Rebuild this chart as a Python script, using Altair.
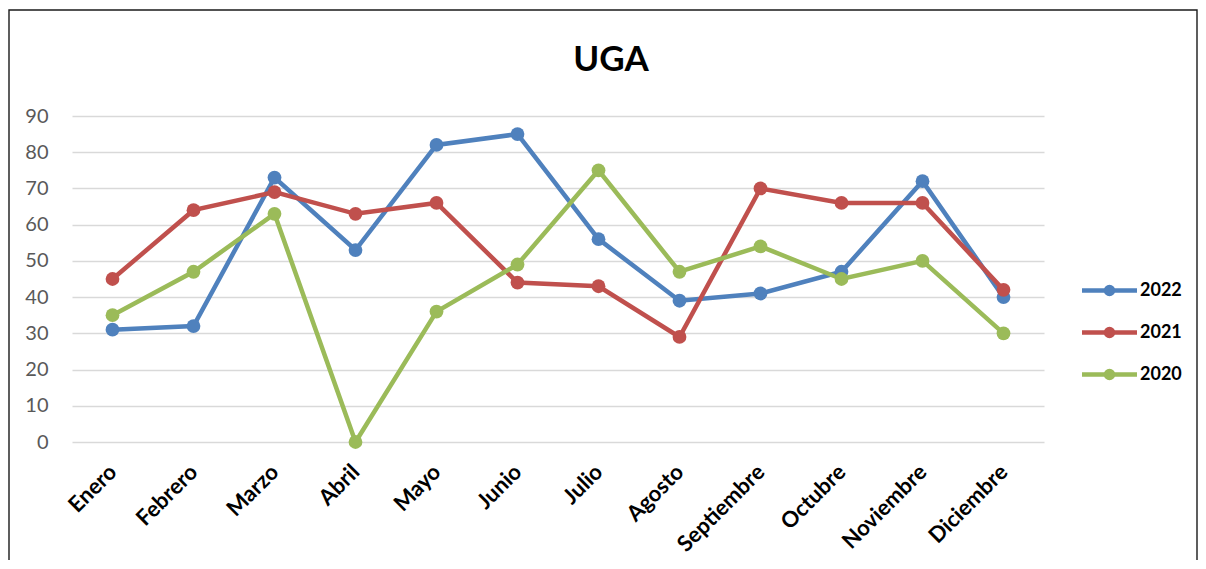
import altair as alt
import pandas as pd

months = ["Enero", "Febrero", "Marzo", "Abril", "Mayo", "Junio", "Julio",
          "Agosto", "Septiembre", "Octubre", "Noviembre", "Diciembre"]
years = ["2022", "2021", "2020"]
v2022 = [31, 32, 73, 53, 82, 85, 56, 39, 41, 47, 72, 40]
v2021 = [45, 64, 69, 63, 66, 44, 43, 29, 70, 66, 66, 42]
v2020 = [35, 47, 63, 0, 36, 49, 75, 47, 54, 45, 50, 30]
colors = ["#4F81BD", "#C0504D", "#9BBB59"]

rows = []
for year, vals in zip(years, [v2022, v2021, v2020]):
    for m, v in zip(months, vals):
        rows.append({"Mes": m, "Año": year, "Valor": v})
df = pd.DataFrame(rows)

legend_symbol = "M-2.5,0L2.5,0M0.32,0A0.32,0.32,0,1,1,-0.32,0A0.32,0.32,0,1,1,0.32,0Z"

lines = alt.Chart(df).mark_line(
    strokeWidth=4.5,
    point=alt.OverlayMarkDef(filled=True, size=190, opacity=1),
).encode(
    x=alt.X("Mes:N", sort=months, title=None,
            axis=alt.Axis(labelAngle=-45, labelAlign="right", labelBaseline="middle",
                          labelFont="Lato", labelFontSize=22, labelFontWeight="bold",
                          labelColor="#000000", labelPadding=26, ticks=False,
                          domain=False, grid=False)),
    y=alt.Y("Valor:Q", title=None,
            scale=alt.Scale(domain=[0, 90], nice=False, zero=True),
            axis=alt.Axis(values=list(range(0, 91, 10)), labelFont="Lato",
                          labelFontSize=20, labelColor="#595959", labelPadding=24,
                          ticks=False, domain=False, grid=True, gridColor="#D9D9D9",
                          gridWidth=1.6)),
    color=alt.Color("Año:N", sort=years,
                    scale=alt.Scale(domain=years, range=colors),
                    legend=alt.Legend(title=None, orient="none", legendX=1024, legendY=161,
                                      symbolType=legend_symbol, symbolSize=484,
                                      symbolStrokeWidth=4.5,
                                      labelFont="Lato", labelFontSize=18,
                                      labelFontWeight="bold", labelColor="#000000",
                                      labelOffset=17, rowPadding=15)),
    order=alt.Order("Año:N", sort="descending"),
)

frame = alt.Chart(alt.Data(values=[{}])).mark_rect(
    filled=False, stroke="#1a1a1a", strokeWidth=1.4, clip=False
).encode(
    x=alt.value(-63), x2=alt.value(1125), y=alt.value(-106), y2=alt.value(480)
)

chart = alt.layer(frame, lines).properties(
    width=972, height=326,
    title=alt.Title("UGA", font="Lato", fontSize=35, fontWeight="bold", color="#000000",
                    anchor="middle", dx=53, offset=-97, baseline="alphabetic"),
    autosize=alt.AutoSizeParams(type="none"),
    padding={"left": 64, "top": 108, "right": 154, "bottom": 118},
    background="#ffffff",
).configure_view(stroke=None)

chart.save("out.html", embed_options={"renderer": "svg", "actions": False})
